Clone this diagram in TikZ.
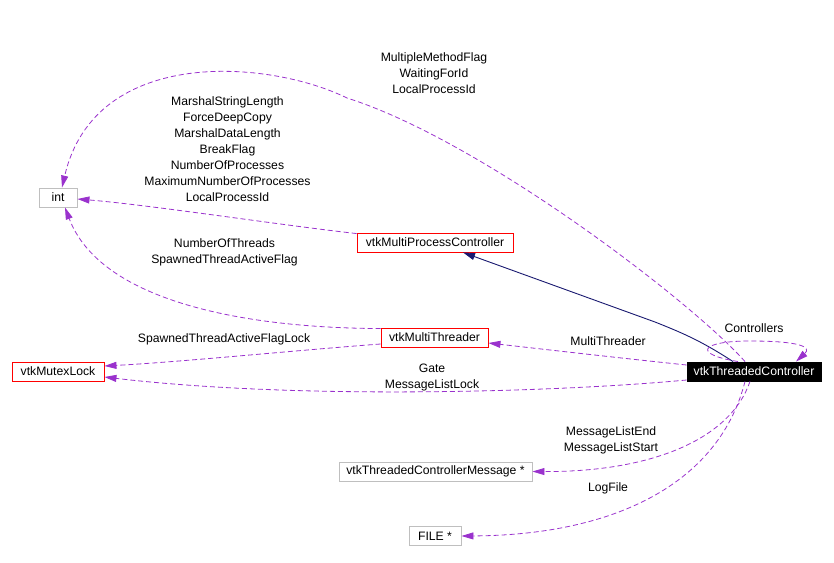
\documentclass[tikz,border=0pt]{standalone}
\usepackage{fontspec}
\setmainfont{Liberation Sans}
\usetikzlibrary{arrows.meta}
\definecolor{edgepurple}{HTML}{9A32CD}
\definecolor{edgenavy}{HTML}{191970}
\definecolor{boxgray}{HTML}{BFBFBF}
\tikzset{
  box/.style={draw, line width=0.9pt, inner sep=0pt, minimum height=19pt, font=\fontsize{12.2}{16}\selectfont},
  redbox/.style={box, draw=red},
  graybox/.style={box, draw=boxgray},
  blackbox/.style={box, draw=black, fill=black, text=white},
  usage/.style={draw=edgepurple, line width=0.8pt, dash pattern=on 5pt off 3pt,
    -{Triangle[length=12pt,width=7pt,fill=edgepurple]}},
  inherit/.style={draw=edgenavy, line width=0.9pt,
    -{Triangle[length=12pt,width=7pt,fill=edgenavy]}},
  lbl/.style={align=center, inner sep=0pt, font=\fontsize{12.2}{16}\selectfont}
}
\begin{document}
\begin{tikzpicture}[x=1pt,y=-1pt]
\useasboundingbox (0,0) rectangle (834,562);
% nodes
\node[graybox, minimum width=38pt] (int) at (58,197.5) {int};
\node[redbox, minimum width=156pt] (mpc) at (435,242.5) {vtkMultiProcessController};
\node[redbox, minimum width=107pt] (mt) at (434.5,337.5) {vtkMultiThreader};
\node[redbox, minimum width=92pt] (ml) at (58,371.5) {vtkMutexLock};
\node[blackbox, minimum width=134pt] (tc) at (754,371.5) {vtkThreadedController};
\node[graybox, minimum width=193pt] (msg) at (435.5,471.5) {vtkThreadedControllerMessage *};
\node[graybox, minimum width=52pt] (file) at (435,536) {FILE *};
% labels
\node[lbl] (l1) at (434,73) {MultipleMethodFlag\\WaitingForId\\LocalProcessId};
\node[lbl] (l2) at (227.5,149) {MarshalStringLength\\ForceDeepCopy\\MarshalDataLength\\BreakFlag\\NumberOfProcesses\\MaximumNumberOfProcesses\\LocalProcessId};
\node[lbl] (l3) at (224.5,252) {NumberOfThreads\\SpawnedThreadActiveFlag};
\node[lbl] (l4) at (224,339) {SpawnedThreadActiveFlagLock};
\node[lbl] (l5) at (608,341) {MultiThreader};
\node[lbl] (l6) at (432,377) {Gate\\MessageListLock};
\node[lbl] (l7) at (754,328) {Controllers};
\node[lbl] (l8) at (611,440) {MessageListEnd\\MessageListStart};
\node[lbl] (l9) at (608,488) {LogFile};
% edges
\draw[usage] ([xshift=-9pt]tc.north) .. controls (690,300) and (480,140) .. (347,98)
  .. controls (270,60) and (95,45) .. ([xshift=4pt]int.north);
\draw[usage] ([yshift=-1pt]mpc.north west) .. controls (280,225) and (150,205) .. ([yshift=-1.5pt]int.east);
\draw[usage] ([yshift=-1pt]mt.north west) .. controls (240,328) and (100,300) .. ([xshift=7pt]int.south);
\draw[usage] ([yshift=-6.5pt]mt.west) .. controls (300,350) and (180,362) .. ([yshift=5.5pt]ml.east);
\draw[usage] ([yshift=-8.5pt]tc.west) .. controls (560,392) and (300,400) .. ([yshift=-5.5pt]ml.east);
\draw[usage] ([yshift=6.5pt]tc.west) .. controls (620,358) and (550,350) .. ([yshift=-5.5pt]mt.east);
\draw[inherit] ([xshift=-21pt]tc.north) .. controls (700,340) and (680,332) .. (655,322) -- ([xshift=28pt]mpc.south);
\draw[usage] ([xshift=-16pt]tc.north) .. controls (692,354) and (700,341) .. (750,341)
  .. controls (800,341) and (812,347) .. ([xshift=42pt]tc.north);
\draw[usage] ([xshift=-4pt]tc.south) .. controls (730,440) and (650,472) .. (msg.east);
\draw[usage] ([xshift=-9pt]tc.south) .. controls (720,480) and (620,535) .. (file.east);
\end{tikzpicture}
\end{document}
